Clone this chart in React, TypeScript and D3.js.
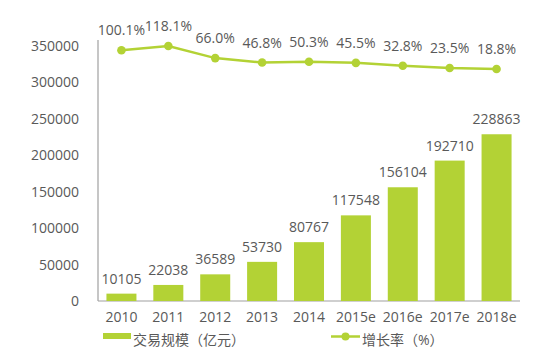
import React from "react";
import * as d3 from "d3";

const categories = ["2010", "2011", "2012", "2013", "2014", "2015e", "2016e", "2017e", "2018e"];
const volume = [10105, 22038, 36589, 53730, 80767, 117548, 156104, 192710, 228863];
const growth = [100.1, 118.1, 66.0, 46.8, 50.3, 45.5, 32.8, 23.5, 18.8];
const yTicks = [0, 50000, 100000, 150000, 200000, 250000, 300000, 350000];
const barLegend = "交易规模（亿元）";
const lineLegend = "增长率（%）";

const W = 554;
const H = 356;
const GREEN = "#b3d235";
const TEXT = "#595959";
const FONT = "'Open Sans', 'Noto Sans CJK SC', sans-serif";

export default function App() {
  const x = d3.scaleBand<string>().domain(categories).range([98, 520]).paddingInner(0.36).paddingOuter(0.18);
  const y = d3.scaleLinear().domain([0, 350000]).range([301, 46]);
  const y2 = d3.scaleLinear().domain([0, 120]).range([73.4, 45.6]);
  const cx = (c: string) => (x(c) as number) + x.bandwidth() / 2;
  const line = d3
    .line<number>()
    .x((_, i) => cx(categories[i]))
    .y((d) => y2(d));

  return (
    <svg width={W} height={H} style={{ position: "absolute", left: 0, top: 0, background: "#fff" }} fontFamily={FONT}>
      {/* y axis */}
      <line x1={98} x2={98} y1={40} y2={301} stroke="#a0a0a0" strokeWidth={1.2} />
      <line x1={98} x2={520} y1={301} y2={301} stroke="#a0a0a0" strokeWidth={1.2} />
      {yTicks.map((t) => (
        <text key={t} x={79} y={y(t)} dy="0.36em" textAnchor="end" fontSize={14} fill={TEXT}>
          {t}
        </text>
      ))}
      {/* bars */}
      {volume.map((v, i) => (
        <g key={categories[i]}>
          <rect x={x(categories[i])} y={y(v)} width={x.bandwidth()} height={301 - y(v)} fill={GREEN} />
          <text x={cx(categories[i])} y={y(v) - 10} textAnchor="middle" fontSize={14} fill={TEXT}>
            {v}
          </text>
          <text x={cx(categories[i])} y={322} textAnchor="middle" fontSize={14} fill={TEXT}>
            {categories[i]}
          </text>
        </g>
      ))}
      {/* line */}
      <path d={line(growth) || ""} fill="none" stroke={GREEN} strokeWidth={2.5} />
      {growth.map((g, i) => (
        <g key={"g" + i}>
          <circle cx={cx(categories[i])} cy={y2(g)} r={4.3} fill={GREEN} />
          <text x={cx(categories[i])} y={y2(g) - 15} textAnchor="middle" fontSize={14} fill={TEXT}>
            {g.toFixed(1) + "%"}
          </text>
        </g>
      ))}
      {/* legend */}
      <rect x={103} y={333} width={28} height={6} fill={GREEN} />
      <text x={133} y={345} fontSize={14} fill={TEXT}>
        {barLegend}
      </text>
      <line x1={331} x2={360} y1={336.5} y2={336.5} stroke={GREEN} strokeWidth={2.5} />
      <circle cx={345.5} cy={336.5} r={4} fill={GREEN} />
      <text x={362} y={345} fontSize={14} fill={TEXT}>
        {lineLegend}
      </text>
    </svg>
  );
}
